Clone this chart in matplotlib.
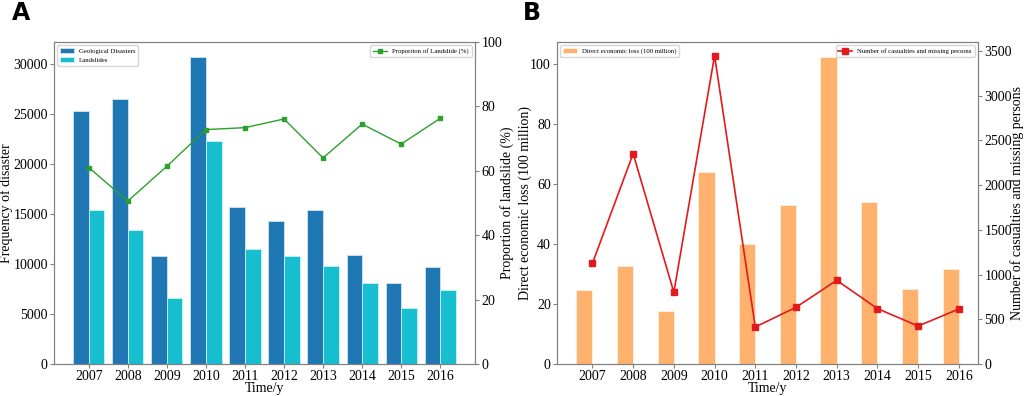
import matplotlib.pyplot as plt
import numpy as np

plt.rcParams['font.family'] = ['Liberation Serif', 'DejaVu Serif']

years = ['2007', '2008', '2009', '2010', '2011', '2012', '2013', '2014', '2015', '2016']

# Panel A
geological = [25330, 26530, 10800, 30650, 15670, 14300, 15370, 10870, 8100, 9700]
landslides = [15430, 13430, 6630, 22300, 11470, 10830, 9820, 8080, 5570, 7380]
proportion = [61.0, 50.6, 61.4, 72.8, 73.4, 76.1, 64.0, 74.5, 68.3, 76.3]

# Panel B
econ_loss = [24.7, 32.7, 17.7, 64.0, 40.1, 52.9, 102.2, 54.1, 24.9, 31.7]
casualties = [1126, 2352, 802, 3449, 414, 634, 936, 619, 425, 615]

x = np.arange(len(years))
w = 0.4
spine_col = '#808080'
tick_fs = 10
label_fs = 10
leg_fs = 4.9


def style(ax):
    for s in ax.spines.values():
        s.set_color(spine_col)
    ax.tick_params(colors='black', labelsize=tick_fs, color=spine_col,
                   length=3, pad=1.5)


fig = plt.figure(figsize=(10.24, 3.96), dpi=100)
axA = fig.add_axes([54 / 1024, 32 / 396, 421 / 1024, 322 / 396])
axB = fig.add_axes([557 / 1024, 32 / 396, 421 / 1024, 322 / 396])

# ---- A ----
axA.bar(x, geological, w, color='#1f77b4', edgecolor='#cfe3f0', linewidth=0.6,
        label='Geological Disasters')
axA.bar(x + w, landslides, w, color='#17becf', edgecolor='#c9f0f5', linewidth=0.6,
        label='Landslides')
axA.set_xticks(x + w / 2)
axA.set_xticklabels(years)
axA.set_xlabel('Time/y', fontsize=label_fs, labelpad=-1)
axA.set_ylabel('Frequency of disaster', fontsize=label_fs)
axA.yaxis.set_label_coords(-0.097, 0.5)
axA.legend(loc='upper left', fontsize=leg_fs)
axA2 = axA.twinx()
axA2.plot(x + w / 2, proportion, color='#2ca02c', marker='s', markersize=3,
          linewidth=1, label='Proportion of Landslide (%)')
axA2.set_ylim(0, 100)
axA2.set_ylabel('Proportion of landslide (%)', fontsize=label_fs)
axA2.yaxis.set_label_coords(1.06, 0.5)
axA2.legend(loc='upper right', fontsize=leg_fs)
style(axA)
style(axA2)

# ---- B ----
axB.bar(x, econ_loss, w, color='#ffb26e', edgecolor='#fff0e0', linewidth=0.6,
        label='Direct economic loss (100 million)')
axB.set_xticks(x + w / 2)
axB.set_xticklabels(years)
axB.set_xlabel('Time/y', fontsize=label_fs, labelpad=-1)
axB.set_ylabel('Direct economic loss (100 million)', fontsize=label_fs)
axB.yaxis.set_label_coords(-0.060, 0.5)
axB.legend(loc='upper left', fontsize=leg_fs)
axB2 = axB.twinx()
axB2.plot(x + w / 2, casualties, color='#e31a1c', marker='s', markersize=4,
          linewidth=1.2, label='Number of casualties and missing persons')
axB2.set_ylim(bottom=0)
axB2.set_ylabel('Number of casualties and missing persons', fontsize=label_fs)
axB2.yaxis.set_label_coords(1.077, 0.5)
axB2.legend(loc='upper right', fontsize=leg_fs)
style(axB)
style(axB2)

fig.text(12 / 1024, 1 - 20 / 396, 'A', fontsize=17, fontweight='bold',
         family='DejaVu Sans')
fig.text(523 / 1024, 1 - 20 / 396, 'B', fontsize=17, fontweight='bold',
         family='DejaVu Sans')

fig.savefig('out.png', dpi=100)
